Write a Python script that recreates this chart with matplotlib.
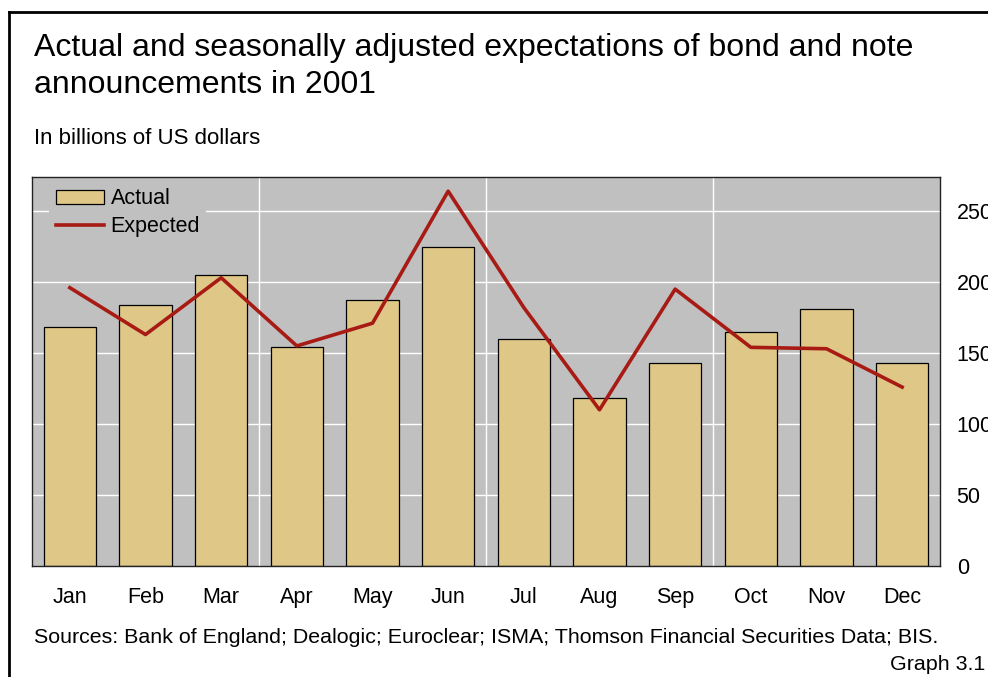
import matplotlib.pyplot as plt
from matplotlib.lines import Line2D

plt.rcParams['font.family'] = ['Liberation Sans', 'DejaVu Sans']

months = ['Jan', 'Feb', 'Mar', 'Apr', 'May', 'Jun', 'Jul', 'Aug', 'Sep', 'Oct', 'Nov', 'Dec']
actual = [168, 184, 205, 154, 187, 225, 160, 118, 143, 165, 181, 143]
expected = [196, 163, 203, 155, 171, 264, 182, 110, 195, 154, 153, 126]
yticks = [0, 50, 100, 150, 200, 250]

bar_color = '#dfc887'
line_color = '#a81b14'
bg_color = '#c0c0c0'

fig = plt.figure(figsize=(9.88, 6.77), dpi=100)
ax = fig.add_axes([0.0324, 0.164, 0.919, 0.5746])
ax.set_facecolor(bg_color)

x = list(range(len(months)))
bars = ax.bar(x, actual, width=0.69, color=bar_color, edgecolor='black', linewidth=0.9,
              label='Actual', zorder=2)
line, = ax.plot(x, expected, color=line_color, linewidth=2.6, label='Expected', zorder=3)

ax.set_xlim(-0.5, 11.5)
ax.set_ylim(0, 274)
ax.set_yticks(yticks)
ax.yaxis.tick_right()
ax.tick_params(axis='y', length=0, pad=12, labelsize=15.5)
ax.tick_params(axis='x', length=0, pad=15, labelsize=15.5)
ax.set_xticks(x)
ax.set_xticklabels(months)
for t in ax.get_yticklabels():
    t.set_horizontalalignment('left')

# grid: horizontal at y ticks, vertical at quarter boundaries
for yv in yticks[1:]:
    ax.axhline(yv, color='white', linewidth=1, zorder=1)
for xv in [2.5, 5.5, 8.5]:
    ax.axvline(xv, color='white', linewidth=1, zorder=1)

for s in ax.spines.values():
    s.set_color('#222222')
    s.set_linewidth(1)

leg = ax.legend([bars, line], ['Actual', 'Expected'], loc='upper left',
                bbox_to_anchor=(0.007, 1.015), fontsize=15.5,
                frameon=True, facecolor=bg_color, edgecolor=bg_color, framealpha=1,
                handlelength=2.25, handleheight=0.6, handletextpad=0.3, borderpad=0.3,
                labelspacing=0.3, fancybox=False)
leg.get_frame().set_linewidth(0)

fig.text(0.034, 0.917, 'Actual and seasonally adjusted expectations of bond and note',
         fontsize=23, va='baseline')
fig.text(0.034, 0.862, 'announcements in 2001', fontsize=23, va='baseline')
fig.text(0.034, 0.787, 'In billions of US dollars', fontsize=16, va='baseline')
fig.text(0.034, 0.050, 'Sources: Bank of England; Dealogic; Euroclear; ISMA; Thomson Financial Securities Data; BIS.',
         fontsize=15.4, va='baseline')
fig.text(0.997, 0.011, 'Graph 3.1', fontsize=15.4, ha='right', va='baseline')

# outer frame lines
fig.add_artist(Line2D([0.0091, 0.0091], [0.0, 0.9823], color='black', linewidth=2,
                      transform=fig.transFigure))
fig.add_artist(Line2D([0.0091, 1.0], [0.9823, 0.9823], color='black', linewidth=2,
                      transform=fig.transFigure))

fig.savefig('out.png', dpi=100)
